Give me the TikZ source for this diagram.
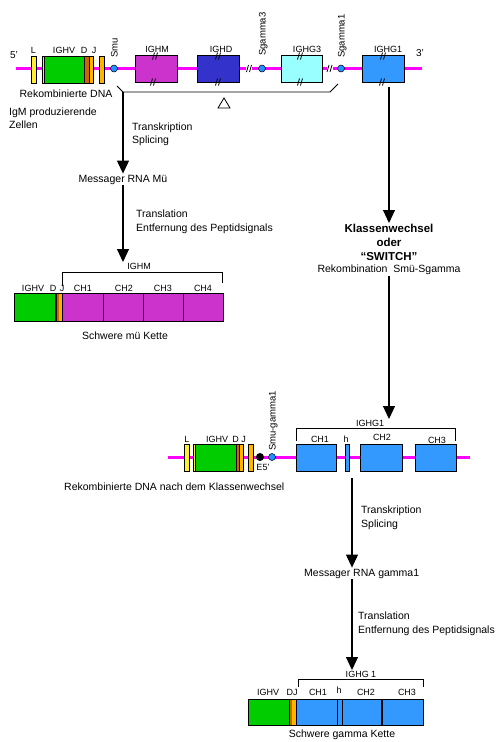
\documentclass[tikz,border=0pt]{standalone}
\usepackage{fontspec}
\setmainfont{Liberation Sans}
\usetikzlibrary{arrows.meta}
\definecolor{lnmag}{HTML}{FF00FF}
\definecolor{cyel}{HTML}{FFEF30}
\definecolor{cgrn}{HTML}{00CC00}
\definecolor{cbrn}{HTML}{CC6600}
\definecolor{corg}{HTML}{FFB400}
\definecolor{cmag}{HTML}{CC33CC}
\definecolor{cind}{HTML}{3333CC}
\definecolor{ccya}{HTML}{99FFFF}
\definecolor{cblu}{HTML}{3399FF}
\definecolor{ccir}{HTML}{1E90FF}
\tikzset{
 gene/.style={draw=black, line width=0.8pt, inner sep=0pt, outer sep=0pt},
 txt/.style={inner sep=1pt, font=\fontsize{10.5}{13}\selectfont},
 lab/.style={inner sep=0.5pt, anchor=base, font=\fontsize{9}{10}\selectfont},
 rlab/.style={inner sep=0pt, rotate=90, anchor=base west, font=\fontsize{9.5}{11}\selectfont},
 arr/.style={line width=1.1pt, -{Triangle[length=13pt,width=12pt]}},
 brk/.style={line width=0.8pt},
 dna/.style={lnmag, line width=3pt},
 swi/.style={circle, draw=black, line width=0.5pt, fill=ccir, minimum size=7pt, inner sep=0pt},
 sep/.style={line width=0.8pt},
 dbl/.pic={\draw[line width=0.8pt] (-2.5,3.5)--(-0.5,-3.5) (0.5,3.5)--(2.5,-3.5);},
}
\begin{document}
\begin{tikzpicture}[x=1pt,y=-1pt]
\fill[white] (0,0) rectangle (502,742);
\useasboundingbox (0,0) rectangle (502,742);

% ---------- top row: germline locus ----------
\draw[dna] (16,68.5) -- (422,68.5);
\fill[white] (246,62) rectangle (252,75);
\fill[white] (326.5,62) rectangle (332.5,75);
\pic at (249,68.5) {dbl};
\pic at (329.5,68.5) {dbl};

\node[gene, fill=cyel, minimum width=4.5pt, minimum height=27pt] (L1) at (34,69.5) {};
\fill[cgrn] (42,56) rectangle (84,83);
\fill[cyel] (42,56) rectangle (44.5,83);
\fill[cbrn] (84,56) rectangle (89,83);
\fill[corg] (89,56) rectangle (93,83);
\draw[sep] (44.5,56) -- (44.5,83) (84,56) -- (84,83) (89,56) -- (89,83);
\node[gene, minimum width=51pt, minimum height=27pt] (V1) at (67.5,69.5) {};
\node[gene, fill=corg, minimum width=4.5pt, minimum height=27pt] (J1) at (102,69.5) {};
\node[swi] (smu) at (114,68.5) {};
\node[gene, fill=cmag, minimum width=42pt, minimum height=27pt] (ighm) at (156,68.5) {};
\node[gene, fill=cind, minimum width=42pt, minimum height=27pt] (ighd) at (218,68.5) {};
\node[swi] (sg3) at (262,68.5) {};
\node[gene, fill=ccya, minimum width=41pt, minimum height=27pt] (ighg3) at (301.5,68.5) {};
\node[swi] (sg1) at (341,68.5) {};
\node[gene, fill=cblu, minimum width=42pt, minimum height=27pt] (ighg1) at (383,68.5) {};
\pic at (155,56) {dbl}; \pic at (153,82) {dbl};
\pic at (218,56) {dbl}; \pic at (218,82) {dbl};
\pic at (300,56) {dbl}; \pic at (300,82) {dbl};
\pic at (383,56) {dbl}; \pic at (382,82) {dbl};

\node[lab, font=\fontsize{10}{11}\selectfont] (t5) at (14,58) {5'};
\node[lab, font=\fontsize{10}{11}\selectfont] (t3p) at (420,56) {3'};
\node[lab] (lL1) at (33.5,53) {L};
\node[lab] (lV1) at (64,53) {IGHV};
\node[lab] (lD1) at (84,53) {D};
\node[lab] (lJ1) at (94,53) {J};
\node[lab] (lM) at (157,52) {IGHM};
\node[lab] (lD) at (221,52) {IGHD};
\node[lab] (lG3) at (307,52) {IGHG3};
\node[lab] (lG1) at (388,52) {IGHG1};
\node[rlab] (rsmu) at (117.5,58) {Smu};
\node[rlab] (rsg3) at (265.5,56) {Sgamma3};
\node[rlab] (rsg1) at (344.5,58) {Sgamma1};

\draw[brk] (117,86) -- (123,92) coordinate (bl) -- (330,92) -- (338,84);
\draw[line width=0.8pt] (218,108) -- (230,108) -- (224,98) -- cycle;

\node[txt, anchor=base] (rdna) at (66,97) {Rekombinierte DNA};
\node[txt, anchor=base west] (igm1) at (8,115) {IgM produzierende};
\node[txt, anchor=base west] (igm2) at (8,128) {Zellen};
\node[txt, anchor=base west] (tr1) at (131,130) {Transkription};
\node[txt, anchor=base west] (sp1) at (131,143) {Splicing};

% ---------- left branch ----------
\node[txt, anchor=base] (mrnamu) at (123,182) {Messager RNA Mü};
\draw[arr] (bl) -- (mrnamu.north -| bl);
\node[txt, anchor=base west] (tl1) at (135,217) {Translation};
\node[txt, anchor=base west] (ep1) at (135,231) {Entfernung des Peptidsignals};

\node[lab] (lIGHM) at (139,269) {IGHM};
\draw[arr] (mrnamu.south -| bl) -- (bl |- lIGHM.north);
\draw[brk] (62,286) -- (62,272) -- (222,272) -- (222,283);

\fill[cgrn] (14,293) rectangle (55,321);
\fill[black] (55,293) rectangle (56.5,321);
\fill[cbrn] (56.5,293) rectangle (59,321);
\fill[corg] (59,293) rectangle (62,321);
\fill[cmag] (62,293) rectangle (223,321);
\draw[sep] (62,293) -- (62,321) (103,293) -- (103,321) (143,293) -- (143,321) (183,293) -- (183,321);
\node[gene, minimum width=209pt, minimum height=28pt] (chain1) at (118.5,307) {};
\node[lab] (cV) at (33,291) {IGHV};
\node[lab] (cD) at (53,291) {D};
\node[lab] (cJ) at (62,291) {J};
\node[lab] (c1) at (83,291) {CH1};
\node[lab] (c2) at (124,291) {CH2};
\node[lab] (c3) at (163,291) {CH3};
\node[lab] (c4) at (203,291) {CH4};
\node[txt, anchor=base] (smk) at (125,339) {Schwere mü Kette};

% ---------- right branch: switch ----------
\node[txt, anchor=north, align=center, font=\fontsize{10.5}{14}\selectfont] (klass) at (389,223)
 {{\fontsize{11.5}{14}\selectfont\bfseries Klassenwechsel}\\{\fontsize{11.5}{14}\selectfont\bfseries oder}\\{\fontsize{11.5}{14}\selectfont\bfseries “SWITCH”}\\[-2pt]Rekombination\ \ Smü-Sgamma};
\draw[arr] ([xshift=6pt,yshift=-5pt]ighg1.south) -- (klass.north);

% ---------- middle row: switched locus ----------
\draw[dna] (168,457) -- (470,457);
\node[gene, fill=cyel, minimum width=5pt, minimum height=27pt] (L2) at (186.5,457.5) {};
\fill[cgrn] (193,444) rectangle (236,471);
\fill[cyel] (193,444) rectangle (195,471);
\fill[cbrn] (236,444) rectangle (239.5,471);
\fill[corg] (239.5,444) rectangle (243,471);
\draw[sep] (195,444) -- (195,471) (236,444) -- (236,471) (239.5,444) -- (239.5,471);
\node[gene, minimum width=50pt, minimum height=27pt] (V2) at (218,457.5) {};
\node[gene, fill=corg, minimum width=5pt, minimum height=27pt] (J2) at (250.5,457.5) {};
\node[circle, fill=black, minimum size=8pt, inner sep=0pt] (e5) at (260,457) {};
\node[swi] (smg1) at (272,457) {};
\node[gene, fill=cblu, minimum width=40pt, minimum height=27pt] (ch1m) at (316,457.5) {};
\node[gene, fill=cblu, minimum width=4pt, minimum height=27pt] (hm) at (347,457.5) {};
\node[gene, fill=cblu, minimum width=42pt, minimum height=27pt] (ch2m) at (381,457.5) {};
\node[gene, fill=cblu, minimum width=41pt, minimum height=27pt] (ch3m) at (435.5,457.5) {};

\node[lab] (lIGHG1m) at (370,426) {IGHG1};
\draw[arr] (klass.south) -- (klass.south |- lIGHG1m.north);
\draw[brk] (296,441) -- (296,428) -- (455,428) -- (455,441);
\node[lab] (mL) at (187,442) {L};
\node[lab] (mV) at (217,442) {IGHV};
\node[lab] (mD) at (235.5,442) {D};
\node[lab] (mJ) at (243.5,442) {J};
\node[lab] (mc1) at (320,442) {CH1};
\node[lab] (mh) at (346,442) {h};
\node[lab] (mc2) at (382,440) {CH2};
\node[lab] (mc3) at (437,443) {CH3};
\node[lab] (me5) at (263,470) {E5'};
\node[rlab] (rsmg) at (275.5,451) {Smu-gamma1};

\node[txt, anchor=base west] (rdna2) at (63,490) {Rekombinierte DNA nach dem Klassenwechsel};
\coordinate (t3) at (352,478);
\node[txt, anchor=base west] (tr2) at (360,513) {Transkription};
\node[txt, anchor=base west] (sp2) at (360,527) {Splicing};
\node[txt, anchor=base west] (mrnag) at (303,576) {Messager RNA gamma1};
\draw[arr] (t3) -- (t3 |- mrnag.north);
\node[txt, anchor=base west] (tl2) at (357,619) {Translation};
\node[txt, anchor=base west] (ep2) at (357,633) {Entfernung des Peptidsignals};

% ---------- bottom chain ----------
\node[lab] (lIGHG1b) at (361,677) {IGHG 1};
\draw[arr] (mrnag.south -| t3) -- (t3 |- lIGHG1b.north);
\draw[brk] (298,687) -- (298,679) -- (423,679) -- (423,687);
\fill[cgrn] (248,699) rectangle (289,725);
\fill[cbrn] (289,699) rectangle (292,725);
\fill[corg] (292,699) rectangle (296,725);
\fill[cblu] (296,699) rectangle (423,725);
\draw[sep] (289,699) -- (289,725) (296,699) -- (296,725) (337,699) -- (337,725) (342,699) -- (342,725);
\draw[line width=1.2pt] (382,699) -- (382,725);
\node[gene, minimum width=175pt, minimum height=26pt] (chain2) at (335.5,712) {};
\node[lab] (bV) at (268,695) {IGHV};
\node[lab] (bDJ) at (292,695) {DJ};
\node[lab] (b1) at (318,695) {CH1};
\node[lab] (bh) at (339,693) {h};
\node[lab] (b2) at (366,695) {CH2};
\node[lab] (b3) at (407,695) {CH3};
\node[txt, anchor=base] (sgk) at (342,737) {Schwere gamma Kette};
\end{tikzpicture}
\end{document}
